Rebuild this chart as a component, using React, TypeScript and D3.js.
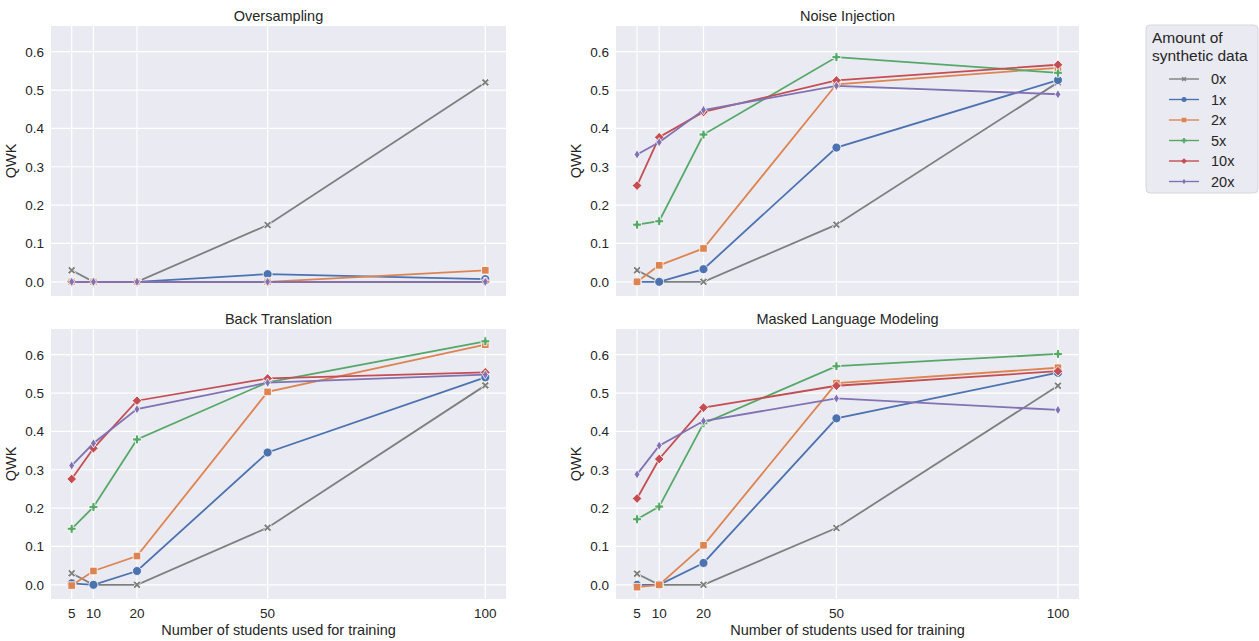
import React from "react";
import * as d3 from "d3";

const xValues = [5, 10, 20, 50, 100];
const seriesNames = ["0x", "1x", "2x", "5x", "10x", "20x"];
const seriesColors = ["#7f7f7f", "#4c72b0", "#dd8452", "#55a868", "#c44e52", "#8172b3"];
const seriesMarkers = ["X", "o", "s", "P", "D", "d"];
const yTicks = [0.0, 0.1, 0.2, 0.3, 0.4, 0.5, 0.6];

const oversampling = [
  [0.03, 0, 0, 0.148, 0.52],
  [0, 0, 0, 0.02, 0.007],
  [0, 0, 0, 0, 0.03],
  [0, 0, 0, 0, 0],
  [0, 0, 0, 0, 0],
  [0, 0, 0, 0, 0],
];
const noiseInjection = [
  [0.03, 0, 0, 0.149, 0.52],
  [0, 0, 0.033, 0.35, 0.526],
  [0, 0.043, 0.087, 0.515, 0.558],
  [0.149, 0.158, 0.384, 0.586, 0.545],
  [0.251, 0.377, 0.443, 0.525, 0.566],
  [0.332, 0.364, 0.448, 0.511, 0.489],
];
const backTranslation = [
  [0.03, 0, 0, 0.149, 0.52],
  [0.004, 0, 0.036, 0.345, 0.541],
  [-0.002, 0.036, 0.075, 0.503, 0.626],
  [0.146, 0.203, 0.379, 0.528, 0.635],
  [0.276, 0.356, 0.48, 0.538, 0.554],
  [0.311, 0.369, 0.458, 0.527, 0.548],
];
const maskedLM = [
  [0.029, 0, 0, 0.148, 0.519],
  [0, 0, 0.057, 0.434, 0.553],
  [-0.006, 0, 0.103, 0.526, 0.566],
  [0.171, 0.204, 0.421, 0.57, 0.602],
  [0.225, 0.328, 0.462, 0.519, 0.557],
  [0.288, 0.363, 0.427, 0.486, 0.456],
];

const panelTitles = ["Oversampling", "Noise Injection", "Back Translation", "Masked Language Modeling"];
const panelData = [oversampling, noiseInjection, backTranslation, maskedLM];

const FONT = "'Liberation Sans', Arial, sans-serif";

function markerPath(kind: string, r: number): string {
  if (kind === "o") {
    return d3.symbol(d3.symbolCircle, Math.PI * r * r)() as string;
  }
  if (kind === "s") {
    const s = r * 0.9;
    return `M${-s},${-s}H${s}V${s}H${-s}Z`;
  }
  if (kind === "D") {
    const s = r * 1.15;
    return `M0,${-s}L${s},0L0,${s}L${-s},0Z`;
  }
  if (kind === "d") {
    const h = r * 1.1, w = r * 0.7;
    return `M0,${-h}L${w},0L0,${h}L${-w},0Z`;
  }
  if (kind === "P") {
    const a = r * 1.05, t = r * 0.36;
    return `M${-t},${-a}H${t}V${-t}H${a}V${t}H${t}V${a}H${-t}V${t}H${-a}V${-t}H${-t}Z`;
  }
  // X (filled)
  const a = r * 0.95, t = r * 0.42;
  const pts: [number, number][] = [
    [-t, 0], [-a, -a + t], [-a + t, -a], [0, -t], [a - t, -a], [a, -a + t],
    [t, 0], [a, a - t], [a - t, a], [0, t], [-a + t, a], [-a, a - t],
  ];
  return "M" + pts.map((p) => p.join(",")).join("L") + "Z";
}

type PanelProps = { idx: number; left: number; top: number; width: number; height: number };

function Panel({ idx, left, top, width, height }: PanelProps) {
  const data = panelData[idx];
  const x = d3.scaleLinear().domain([0.25, 104.75]).range([left, left + width]);
  const y = d3.scaleLinear().domain([-0.037, 0.667]).range([top + height, top]);
  const line = d3
    .line<[number, number]>()
    .x((d) => x(d[0]))
    .y((d) => y(d[1]));
  const isBottom = idx >= 2;
  return (
    <g>
      <rect x={left} y={top} width={width} height={height} fill="#eaeaf2" />
      {yTicks.map((t) => (
        <line key={"gy" + t} x1={left} x2={left + width} y1={y(t)} y2={y(t)} stroke="#ffffff" strokeWidth={1.2} />
      ))}
      {xValues.map((t) => (
        <line key={"gx" + t} x1={x(t)} x2={x(t)} y1={top} y2={top + height} stroke="#ffffff" strokeWidth={1.2} />
      ))}
      {yTicks.map((t) => (
        <text key={"ty" + t} x={left - 7} y={y(t)} dy="0.36em" textAnchor="end" fontSize={13.5} fill="#262626" fontFamily={FONT}>
          {t.toFixed(1)}
        </text>
      ))}
      {isBottom &&
        xValues.map((t) => (
          <text key={"tx" + t} x={x(t)} y={top + height + 18.5} textAnchor="middle" fontSize={13.5} fill="#262626" fontFamily={FONT}>
            {t}
          </text>
        ))}
      {isBottom && (
        <text x={left + width / 2} y={top + height + 36} textAnchor="middle" fontSize={14.5} fill="#262626" fontFamily={FONT}>
          Number of students used for training
        </text>
      )}
      <text
        transform={`translate(${left - 35},${top + height / 2}) rotate(-90)`}
        textAnchor="middle"
        fontSize={14.5}
        fill="#262626"
        fontFamily={FONT}
      >
        QWK
      </text>
      <text x={left + width / 2} y={top - 5} textAnchor="middle" fontSize={14.5} fill="#262626" fontFamily={FONT}>
        {panelTitles[idx]}
      </text>
      {data.map((vals, si) => {
        const pts = xValues.map((xv, i) => [xv, vals[i]] as [number, number]);
        return (
          <g key={"s" + si}>
            <path d={line(pts) as string} fill="none" stroke={seriesColors[si]} strokeWidth={1.8} />
            {pts.map((p, pi) => (
              <path
                key={pi}
                d={markerPath(seriesMarkers[si], seriesMarkers[si] === "o" ? 4.5 : 4.2)}
                transform={`translate(${x(p[0])},${y(p[1])})`}
                fill={seriesColors[si]}
                stroke="#ffffff"
                strokeWidth={0.8}
              />
            ))}
          </g>
        );
      })}
    </g>
  );
}

function Legend() {
  const lx = 1146, ly = 25, w = 112, h = 168;
  return (
    <g fontFamily={FONT}>
      <rect x={lx} y={ly} width={w} height={h} rx={4} fill="#eaeaf2" stroke="#d6d6e0" strokeWidth={1} />
      <text x={lx + 6} y={ly + 18} fontSize={15.5} fill="#262626">Amount of</text>
      <text x={lx + 6} y={ly + 36} fontSize={15.5} fill="#262626">synthetic data</text>
      {seriesNames.map((n, i) => {
        const yy = ly + 54 + i * 20.5;
        return (
          <g key={n}>
            <line x1={lx + 23} x2={lx + 53} y1={yy} y2={yy} stroke={seriesColors[i]} strokeWidth={1.4} />
            <path d={markerPath(seriesMarkers[i], 2.5)} transform={`translate(${lx + 38},${yy})`} fill={seriesColors[i]} />
            <text x={lx + 65} y={yy} dy="0.36em" fontSize={14.5} fill="#262626">{n}</text>
          </g>
        );
      })}
    </g>
  );
}

export default function App() {
  return (
    <svg width={1259} height={641} style={{ position: "absolute", left: 0, top: 0, background: "#ffffff" }}>
      <Panel idx={0} left={51} top={26} width={455} height={270} />
      <Panel idx={1} left={616} top={26} width={463} height={270} />
      <Panel idx={2} left={51} top={329} width={455} height={270} />
      <Panel idx={3} left={616} top={329} width={463} height={270} />
      <Legend />
    </svg>
  );
}
